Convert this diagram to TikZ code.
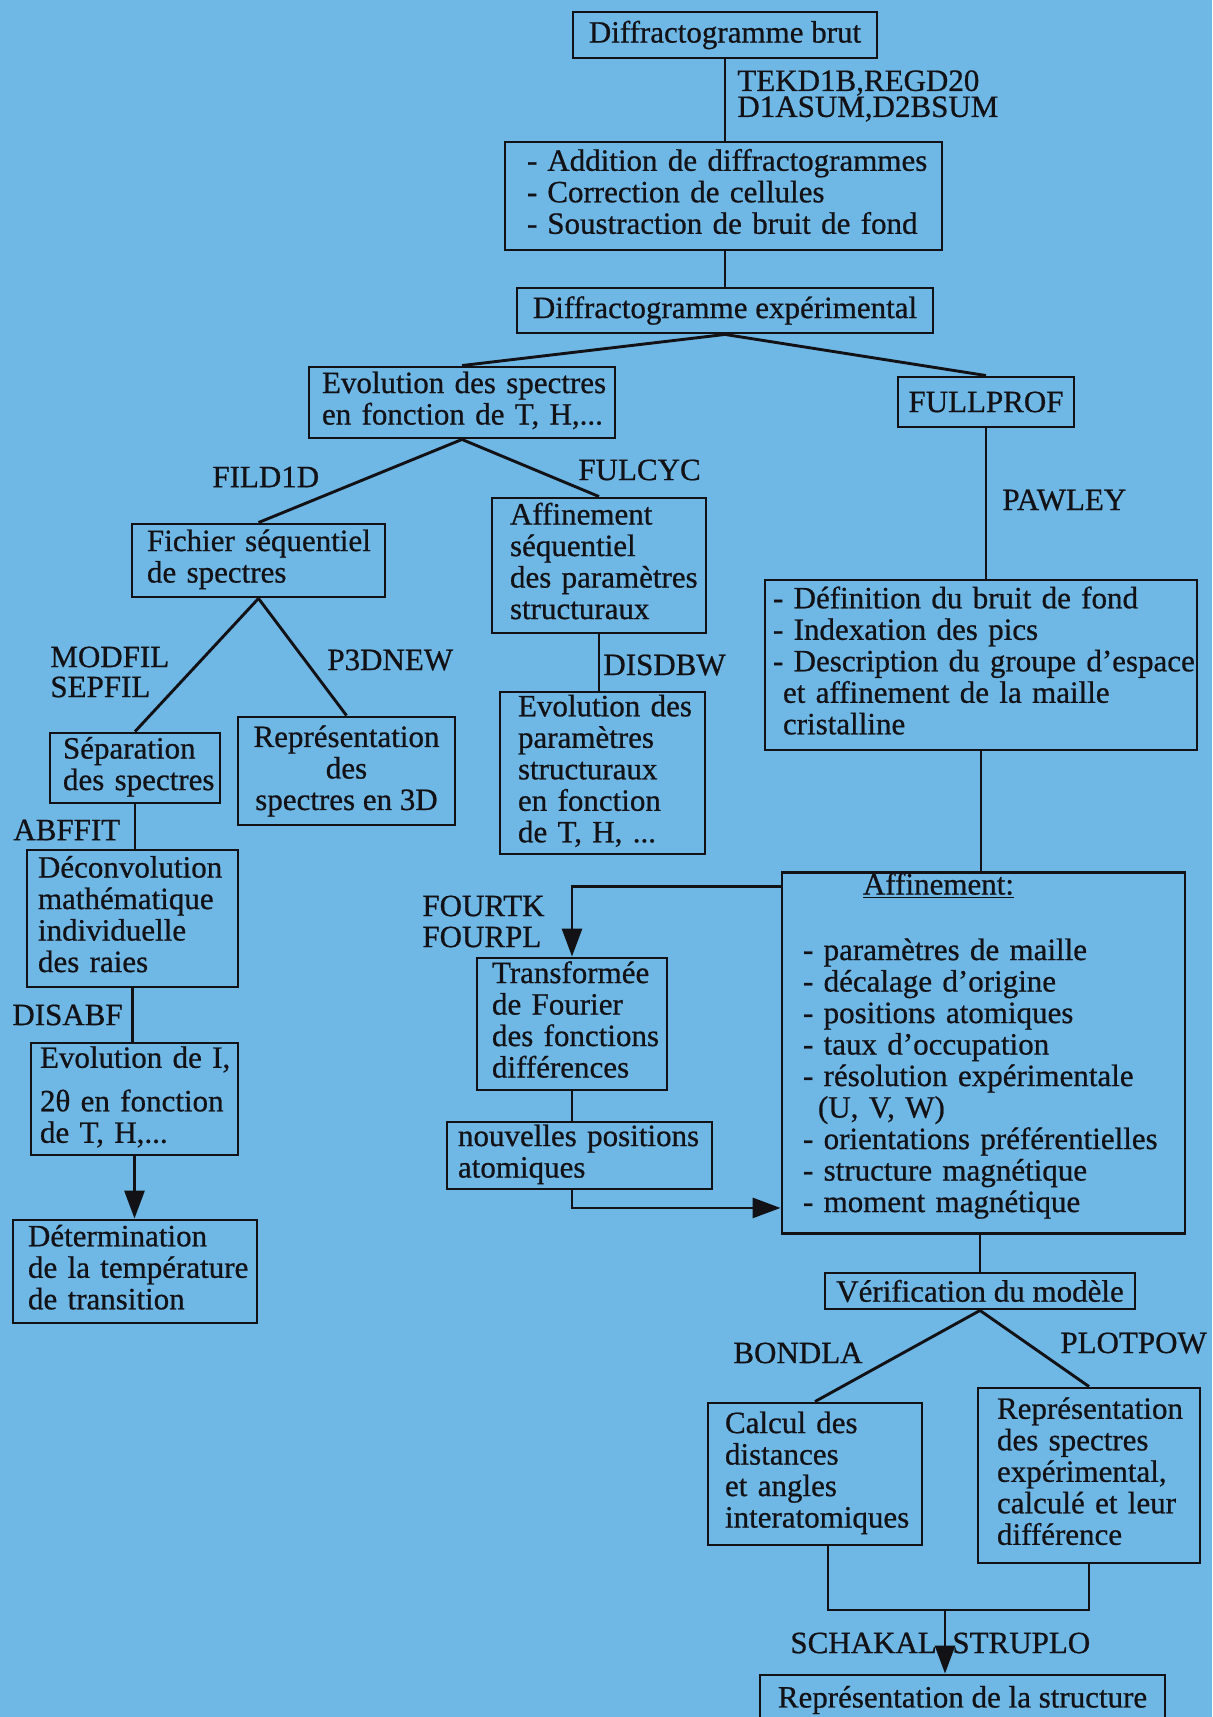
\documentclass[tikz,border=0pt]{standalone}
\usepackage{fontspec}
\setmainfont{Liberation Serif}[FakeBold=0.7]
\usetikzlibrary{arrows.meta,calc}

\definecolor{paper}{RGB}{111,183,229}
\definecolor{ink}{RGB}{18,18,22}

% one block of left-aligned lines that never breaks on its own
\newcommand\ligne[1]{\begin{tabular}{@{}l@{}}#1\end{tabular}}

\tikzset{
  every node/.style={font=\fontsize{15.5}{15.75}\selectfont, text=ink},
  conn/.style={draw=ink, line width=1.45pt},
  arr/.style={conn, -{Triangle[length=14pt,width=10pt]}},
  % centred box: width, height (in px of the drawing grid)
  cbox/.style n args={2}{draw=ink, line width=1.45pt, inner sep=0pt,
    align=center, minimum width=#1*0.5pt, minimum height=#2*0.5pt},
  % left-aligned box: width, height, left padding
  lbox/.code n args={3}{%
    \pgfmathsetmacro\bxw{(#1-2*#3)*0.5}%
    \pgfmathsetmacro\bxp{#3*0.5}%
    \pgfmathsetmacro\bxh{#2*0.5}%
    \edef\bxset{\noexpand\tikzset{draw=ink, line width=1.45pt,
      inner xsep=\bxp pt, inner ysep=0pt, align=left,
      text width=\bxw pt, minimum height=\bxh pt}}\bxset},
  lab/.style={anchor=west, inner sep=0pt, align=left}
}

\begin{document}
\begin{tikzpicture}[x=0.5pt, y=-0.5pt]
\useasboundingbox (0,0) rectangle (1212,1717);
\fill[paper] (0,0) rectangle (1212,1717);

% ---- boxes ----
\node[cbox={304}{46}] (A) at (725,35) {Diffractogramme brut};
\node[lbox={437}{108}{22}] (B) at (723.5,196)
  {\ligne{-\hspace{5pt}Addition de diffractogrammes\\-\hspace{5pt}Correction de cellules\\-\hspace{5pt}Soustraction de bruit de fond}};
\node[cbox={416}{45}] (C) at (725,310.5) {Diffractogramme expérimental};
\node[lbox={306}{71}{13}] (D) at (462,402.5)
  {\ligne{Evolution des spectres\\en fonction de T, H,...}};
\node[cbox={176}{50}] (E) at (986,402) {FULLPROF};
\node[lbox={253}{73}{15}] (F) at (258.5,560.5)
  {\ligne{Fichier séquentiel\\de spectres}};
\node[lbox={214}{135}{18}] (G) at (599,565.5)
  {\ligne{Affinement\\séquentiel\\des paramètres\\structuraux}};
\node[lbox={432}{170}{8}] (H) at (981,665)
  {\ligne{- Définition du bruit de fond\\- Indexation des pics\\- Description du groupe d'espace\\\hspace*{5pt}et affinement de la maille\\\hspace*{5pt}cristalline}};
\node[lbox={170}{70}{13}] (I) at (135,768)
  {\ligne{Séparation\\des spectres}};
\node[cbox={217}{108}] (J) at (346.5,771)
  {Représentation\\des\\spectres en 3D};
\node[lbox={205}{162}{18}] (K) at (602.5,773)
  {\ligne{Evolution des\\paramètres\\structuraux\\en fonction\\de T, H, ...}};
\node[lbox={211}{137}{11}] (L) at (132.5,918.5)
  {\ligne{Déconvolution\\mathématique\\individuelle\\des raies}};
\node[lbox={190}{132}{15}] (M) at (572,1024)
  {\ligne{Transformée\\de Fourier\\des fonctions\\différences}};
\node[lbox={403}{360}{21}] (N) at (983.5,1053)
  {\ligne{\hspace*{30pt}\underline{Affinement:}\\[17pt]
   - paramètres de maille\\
   - décalage d'origine\\
   - positions atomiques\\
   - taux d'occupation\\
   - résolution expérimentale\\
   \hspace*{7.5pt}(U, V, W)\\
   - orientations préférentielles\\
   - structure magnétique\\
   - moment magnétique\\[6pt]}};
\node[lbox={207}{112}{9}] (O) at (134.5,1099)
  {\ligne{Evolution de I,\\[6pt]2θ en fonction\\de T, H,...}};
\node[lbox={265}{67}{11}] (P) at (579.5,1155.5)
  {\ligne{nouvelles positions\\atomiques}};
\node[lbox={244}{103}{15}] (Q) at (135,1271.5)
  {\ligne{Détermination\\de la température\\de transition}};
\node[cbox={310}{36}] (R) at (980,1291) {Vérification du modèle};
\node[lbox={214}{142}{17}] (S) at (815,1474)
  {\ligne{Calcul des\\distances\\et angles\\interatomiques}};
\node[lbox={222}{175}{19}] (T) at (1089,1475.5)
  {\ligne{Représentation\\des spectres\\expérimental,\\calculé et leur\\différence}};
\node[cbox={405}{50}] (U) at (962.5,1700) {Représentation de la structure};

% ---- program names along the links ----
\node[lab, font=\fontsize{15.5}{13}\selectfont] (tek) at (737,96) {TEKD1B,REGD20\\D1ASUM,D2BSUM};
\node[lab] (fild) at (212,477) {FILD1D};
\node[lab] (fulcyc) at (578,470) {FULCYC};
\node[lab] (pawley) at (1002,500) {PAWLEY};
\node[lab, font=\fontsize{15.5}{15}\selectfont] (modfil) at (50,672) {MODFIL\\SEPFIL};
\node[lab] (p3d) at (327,660) {P3DNEW};
\node[lab] (disdbw) at (603,665) {DISDBW};
\node[lab] (abffit) at (13,830) {ABFFIT};
\node[lab, font=\fontsize{15.5}{15.5}\selectfont] (fourtk) at (422,921.5) {FOURTK\\FOURPL};
\node[lab] (disabf) at (12,1015) {DISABF};
\node[lab] (bondla) at (733,1353) {BONDLA};
\node[lab] (plotpow) at (1060,1343) {PLOTPOW};
\node[lab] (schakal) at (790,1643) {SCHAKAL};
\node[lab] (struplo) at (952,1643) {STRUPLO};

% ---- links ----
\draw[conn] (A.south) -- (B.north -| A.south);
\draw[conn] (B.south -| A.south) -- (C.north -| A.south);
\draw[conn] (C.south) -- (D.north);
\draw[conn] (C.south) -- (E.north);
\draw[conn] (D.south) -- (F.north);
\draw[conn] (D.south) -- (G.north);
\draw[conn] (E.south) -- (H.north -| E.south);
\draw[conn] (F.south) -- (I.north);
\draw[conn] (F.south) -- (J.north);
\draw[conn] (G.south) -- (K.north -| G.south);
\draw[conn] (I.south) -- (L.north -| I.south);
\draw[conn] (L.south) -- (O.north -| L.south);
\draw[arr] (O.south) -- (Q.north -| O.south);
\draw[conn] (H.south) -- (N.north -| H.south);
\draw[arr] ($(N.north west)+(0,15)$) -| (M.north);
\draw[conn] (M.south) -- (P.north -| M.south);
\draw[arr] (P.south -| M.south) |- ($(N.south west)+(0,-27)$);
\draw[conn] (N.south -| R.north) -- (R.north);
\draw[conn] (R.south) -- (S.north);
\draw[conn] (R.south) -- (T.north);
\coordinate (jn) at (945,1610);
\draw[conn] ($(S.south)+(13,0)$) coordinate (s1) -- (s1 |- jn) -- (jn -| T.south) -- (T.south);
\draw[arr] (jn) -- (U.north -| jn);
\end{tikzpicture}
\end{document}
